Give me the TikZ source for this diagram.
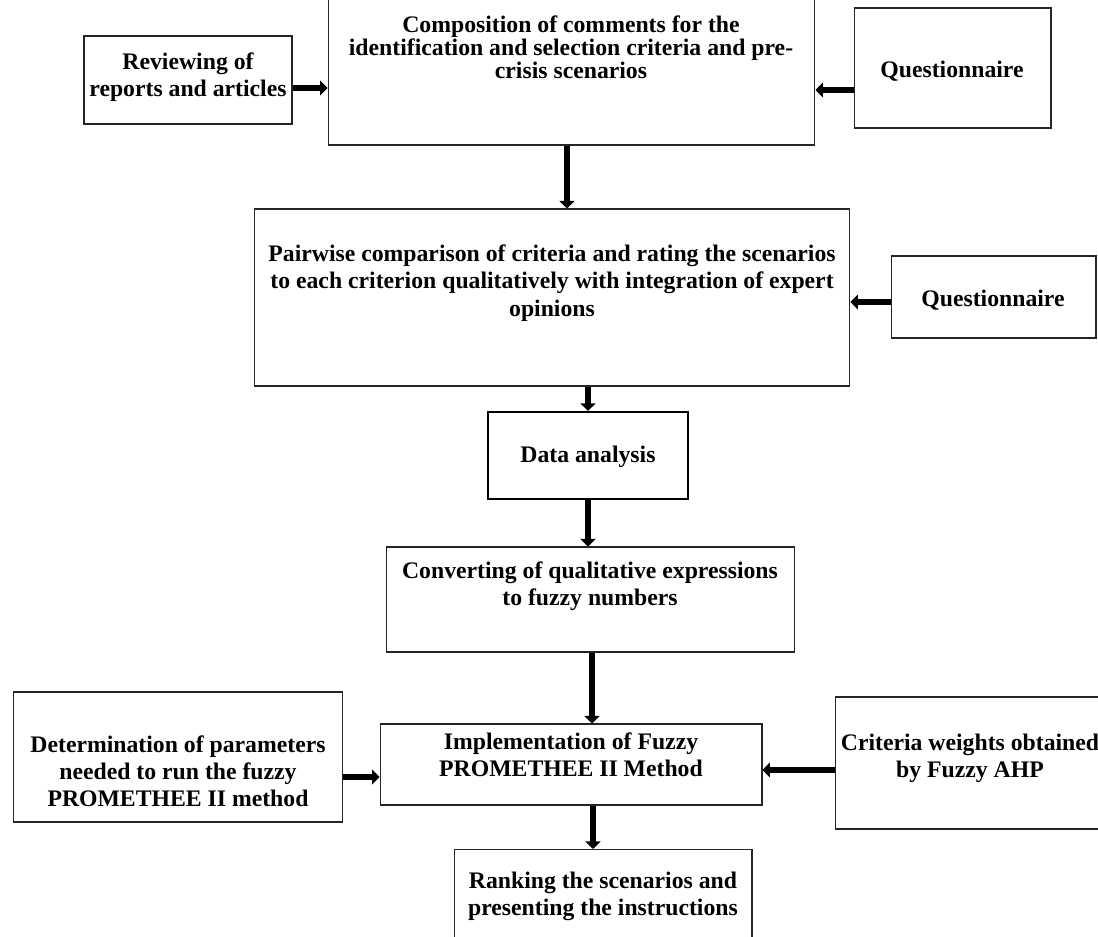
\documentclass[tikz,border=0pt]{standalone}
\usepackage{fontspec}
\setmainfont{Liberation Serif}
\usetikzlibrary{arrows.meta}
\tikzset{
  box/.style={draw=black!85, line width=0.6pt, fill=white},
  txt/.style={align=center, font=\bfseries\fontsize{13.5}{15.5}\selectfont},
  arr/.style={line width=3.4pt, -{Triangle[width=0.3cm, length=0.15cm]}}
}
\begin{document}
\begin{tikzpicture}[x=0.02cm, y=-0.02cm]
                    \useasboundingbox (0,0) rectangle (1098,936);
                    \node[box, minimum width=4.16cm, minimum height=1.76cm] (review) at (188,80) {};
                    \node[txt] (review-t) at (188,77) {Reviewing of\\reports and articles};
                    \node[box, minimum width=9.74cm, minimum height=2.98cm] (compose) at (571.5,70.5) {};
                    \node[txt, font=\bfseries\fontsize{13.5}{13.2}\selectfont] (compose-t) at (571,47) {Composition of comments for the\\identification and selection criteria and pre-\\crisis scenarios};
                    \node[box, minimum width=3.94cm, minimum height=2.4cm] (quest1) at (952.5,68) {};
                    \node[txt] (quest1-t) at (952,71) {Questionnaire};
                    \node[box, minimum width=11.92cm, minimum height=3.54cm] (pairwise) at (552,297.5) {};
                    \node[txt] (pairwise-t) at (552,283) {Pairwise comparison of criteria and rating the scenarios\\to each criterion qualitatively with integration of expert\\opinions};
                    \node[box, minimum width=4.1cm, minimum height=1.64cm] (quest2) at (993.5,297) {};
                    \node[txt] (quest2-t) at (993,300) {Questionnaire};
                    \node[box, line width=1.3pt, draw=black, minimum width=4cm, minimum height=1.74cm] (analysis) at (588,455.5) {};
                    \node[txt] (analysis-t) at (588,457) {Data analysis};
                    \node[box, minimum width=8.18cm, minimum height=2.1cm] (convert) at (590.5,599.5) {};
                    \node[txt] (convert-t) at (590,586) {Converting of qualitative expressions\\to fuzzy numbers};
                    \node[box, minimum width=6.6cm, minimum height=2.6cm] (determ) at (178,757) {};
                    \node[txt] (determ-t) at (178,771) {Determination of parameters\\needed to run the fuzzy\\PROMETHEE II method};
                    \node[box, minimum width=7.64cm, minimum height=1.62cm] (implement) at (571,764.5) {};
                    \node[txt] (implement-t) at (571,755) {Implementation of Fuzzy\\PROMETHEE II Method};
                    \node[box, minimum width=5.4cm, minimum height=2.64cm] (weights) at (970,763) {};
                    \node[txt] (weights-t) at (970,758) {Criteria weights obtained\\by Fuzzy AHP};
                    \node[box, minimum width=5.96cm, minimum height=1.9cm] (ranking) at (603,897) {};
                    \node[txt] (ranking-t) at (603,896) {Ranking the scenarios and\\presenting the instructions};

                    \draw[arr] ([yshift=-0.16cm]review.east) -- ([yshift=-0.16cm]review.east -| compose.west);
                    \draw[arr] ([yshift=-0.44cm]quest1.west) -- ([yshift=-0.44cm]quest1.west -| compose.east);
                    \draw[arr] ([xshift=-0.09cm]compose.south) -- ([xshift=-0.09cm]compose.south |- pairwise.north);
                    \draw[arr] ([yshift=-0.1cm]quest2.west) -- ([yshift=-0.1cm]quest2.west -| pairwise.east);
                    \draw[arr] (pairwise.south -| analysis.north) -- (analysis.north);
                    \draw[arr] (analysis.south) -- (analysis.south |- convert.north);
                    \draw[arr] ([xshift=0.03cm]convert.south) -- ([xshift=0.03cm]convert.south |- implement.north);
                    \draw[arr] ([yshift=-0.4cm]determ.east) -- ([yshift=-0.4cm]determ.east -| implement.west);
                    \draw[arr] ([yshift=-0.14cm]weights.west) -- ([yshift=-0.14cm]weights.west -| implement.east);
                    \draw[arr] ([xshift=0.44cm]implement.south) -- ([xshift=0.44cm]implement.south |- ranking.north);
\end{tikzpicture}
\end{document}
